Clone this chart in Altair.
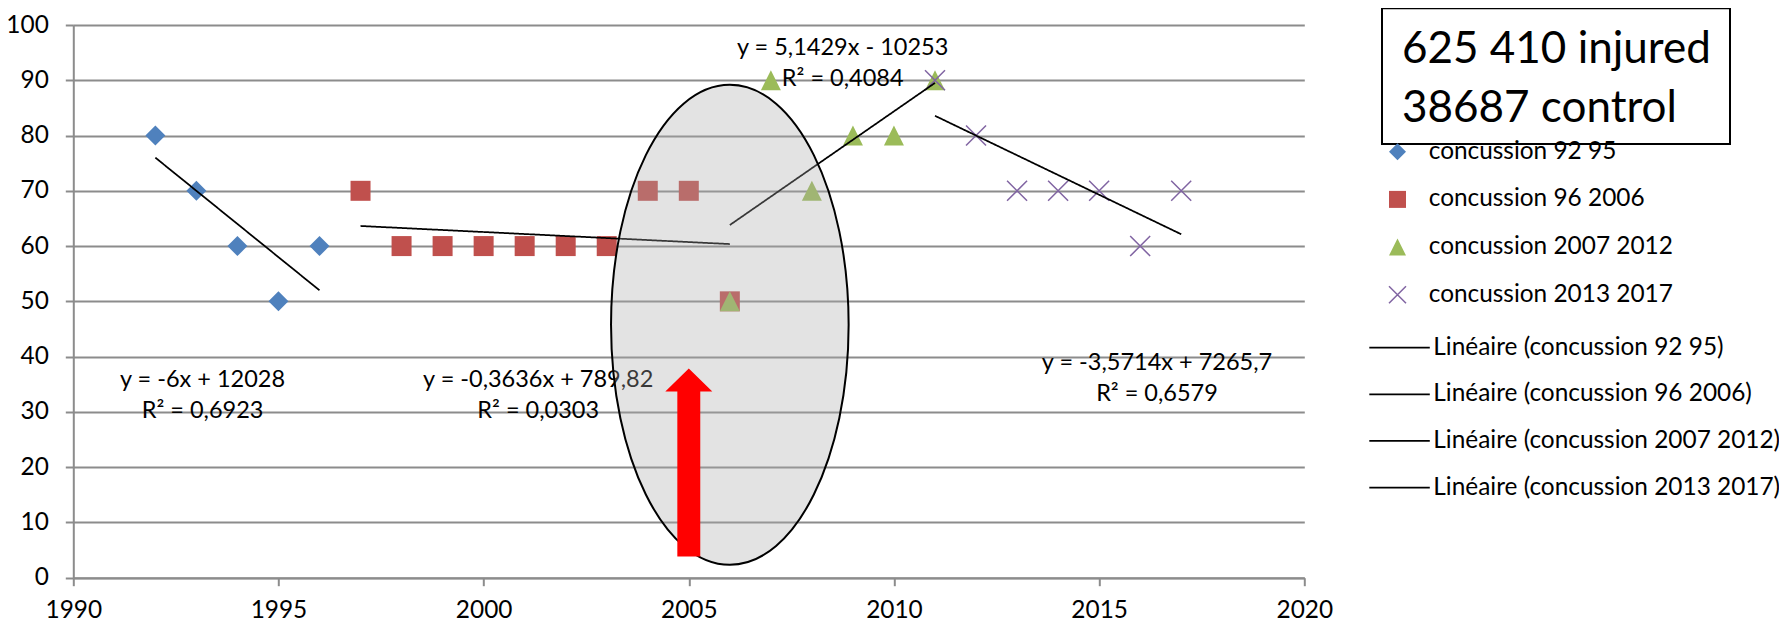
import altair as alt
import pandas as pd

# ---------------- data ----------------
series_names = ["concussion 92 95", "concussion 96 2006",
                "concussion 2007 2012", "concussion 2013 2017"]
trend_names = ["Linéaire (" + s + ")" for s in series_names]

years_92_95 = [1992, 1993, 1994, 1995, 1996]
values_92_95 = [80, 70, 60, 50, 60]
years_96_06 = [1997, 1998, 1999, 2000, 2001, 2002, 2003, 2004, 2005, 2006]
values_96_06 = [70, 60, 60, 60, 60, 60, 60, 70, 70, 50]
years_07_12 = [2006, 2007, 2008, 2009, 2010, 2011]
values_07_12 = [50, 90, 70, 80, 80, 90]
years_13_17 = [2011, 2012, 2013, 2014, 2015, 2016, 2017]
values_13_17 = [90, 80, 70, 70, 70, 60, 70]

equation_texts = ["y = -6x + 12028\nR² = 0,6923",
                  "y = -0,3636x + 789,82\nR² = 0,0303",
                  "y = 5,1429x - 10253\nR² = 0,4084",
                  "y = -3,5714x + 7265,7\nR² = 0,6579"]
equation_years = [1993.15, 2001.33, 2008.75, 2016.41]
equation_values = [35.85, 35.7, 95.8, 38.8]

box_text = "625 410 injured\n38687 control"

x_ticks = [1990, 1995, 2000, 2005, 2010, 2015, 2020]
y_ticks = [0, 10, 20, 30, 40, 50, 60, 70, 80, 90, 100]

# highlighted region (ellipse) and arrow anchor, in data units
ellipse_year, ellipse_value = [2006.0], [45.75]
arrow_year, arrow_value = [2005.0], [20.85]

# ---------------- tables ----------------
all_years = [years_92_95, years_96_06, years_07_12, years_13_17]
all_values = [values_92_95, values_96_06, values_07_12, values_13_17]
rows = []
for name, tname, ys, vs in zip(series_names, trend_names, all_years, all_values):
    for yr, v in zip(ys, vs):
        rows.append({"year": yr, "value": v, "series": name, "trend": tname})
df = pd.DataFrame(rows)
ann = pd.DataFrame({"year": equation_years, "value": equation_values, "label": equation_texts})
ell = pd.DataFrame({"year": ellipse_year, "value": ellipse_value})
arr = pd.DataFrame({"year": arrow_year, "value": arrow_value})
box = pd.DataFrame({"label": [box_text]})

FONT = "Lato"
FS = 23.5
LFS = 24.4
GRID = "#8c8c8c"
TOP = 17.0   # top padding; plot area top edge

xscale = alt.Scale(domain=[1990, 2020], nice=False, zero=False)
yscale = alt.Scale(domain=[0, 100], nice=False, zero=False)

x_axis = alt.Axis(values=x_ticks, format="d", grid=False, title=None,
                  domainColor=GRID, domainWidth=2, tickColor=GRID, tickWidth=2,
                  tickSize=8, labelFont=FONT, labelFontSize=LFS, labelColor="black",
                  labelPadding=13, labelFlush=False, labelOverlap=False)
y_axis = alt.Axis(values=y_ticks, grid=True, gridColor=GRID, gridWidth=2, title=None,
                  domainColor=GRID, domainWidth=2, tickColor=GRID, tickWidth=2,
                  tickSize=8, labelFont=FONT, labelFontSize=LFS, labelColor="black",
                  labelPadding=17, labelFlush=False, labelOverlap=False)

X_ENC = alt.X("year:Q", scale=xscale, axis=x_axis)
Y_ENC = alt.Y("value:Q", scale=yscale, axis=y_axis)

X_PATH = "M -1 -1 L 1 1 M -1 1 L 1 -1"
TRI_PATH = "M 0 -1 L 1 1 L -1 1 Z"
ka, kb, a = 0.2734, 0.5523, 0.495
ELLIPSE_PATH = (f"M {a} 0 C {a} {kb} {ka} 1 0 1 C {-ka} 1 {-a} {kb} {-a} 0 "
                f"C {-a} {-kb} {-ka} -1 0 -1 C {ka} -1 {a} {-kb} {a} 0 Z")
ARROW_PATH = ("M 0 -1 L 0.25 -0.755 L 0.122 -0.755 L 0.122 1 L -0.122 1 "
              "L -0.122 -0.755 L -0.25 -0.755 Z")

dy = 15.5 - TOP  # keep page positions of items placed relative to plot top

pt_legend = alt.Legend(orient="none", legendX=1312, legendY=116 + dy, title=None,
                       labelFont=FONT, labelFontSize=LFS, labelColor="black",
                       labelLimit=800, labelOffset=19, symbolSize=289,
                       symbolStrokeWidth=1.5, rowPadding=22.7, padding=0)
ln_legend = alt.Legend(orient="none", legendX=1294.75, legendY=292.7 + dy, title=None,
                       labelFont=FONT, labelFontSize=LFS, labelColor="black",
                       labelLimit=800, labelOffset=2.25, symbolSize=3659,
                       symbolType="stroke", symbolStrokeColor="black",
                       symbolStrokeWidth=1.75, rowPadding=3.6, padding=0)

points = alt.Chart(df).mark_point(filled=True, size=400, opacity=1, strokeWidth=1.5).encode(
    x=X_ENC, y=Y_ENC,
    fill=alt.Fill("series:N", scale=alt.Scale(domain=series_names,
                  range=["#4F81BD", "#C0504D", "#9BBB59", "#8064A2"]), legend=pt_legend),
    stroke=alt.Stroke("series:N", scale=alt.Scale(domain=series_names,
                      range=["transparent", "transparent", "transparent", "#8064A2"]),
                      legend=pt_legend),
    shape=alt.Shape("series:N", scale=alt.Scale(domain=series_names,
                    range=["diamond", "square", TRI_PATH, X_PATH]), legend=pt_legend),
)

trends = alt.Chart(df).transform_regression(
    "year", "value", groupby=["trend"], method="linear"
).mark_line(color="black", strokeWidth=1.75).encode(
    x=X_ENC, y=Y_ENC,
    strokeDash=alt.StrokeDash("trend:N", scale=alt.Scale(domain=trend_names,
                              range=[[1, 0], [1, 0], [1, 0], [1, 0]]), legend=ln_legend),
)

equations = alt.Chart(ann).mark_text(font=FONT, fontSize=FS, color="black", align="center",
                                     baseline="middle", lineBreak="\n", lineHeight=31).encode(
    x=X_ENC, y=Y_ENC, text="label:N",
)

ellipse = alt.Chart(ell).mark_point(shape=ELLIPSE_PATH, size=230400, filled=True, opacity=1,
                                    fill="#aaaaaa", fillOpacity=0.33, stroke="black",
                                    strokeOpacity=1, strokeWidth=2).encode(
    x=X_ENC, y=Y_ENC,
)

arrow = alt.Chart(arr).mark_point(shape=ARROW_PATH, size=35344, filled=True, opacity=1,
                                  fill="#ff0000", strokeWidth=0).encode(
    x=X_ENC, y=Y_ENC,
)

box_rect = alt.Chart(box).mark_rect(fill="white", stroke="black", strokeWidth=2).encode(
    x=alt.value(1308.7), x2=alt.value(1656.7), y=alt.value(-15.2 + dy), y2=alt.value(120.5 + dy)
)
box_label = alt.Chart(box).mark_text(font=FONT, fontSize=44, color="black", align="left",
                                     baseline="alphabetic", lineBreak="\n", lineHeight=59).encode(
    x=alt.value(1328.7), y=alt.value(39.5 + dy), text="label:N"
)

chart = alt.layer(points, trends, equations, ellipse, arrow, box_rect, box_label).properties(
    width=1231, height=554.2 + dy,
    autosize=alt.AutoSizeParams(type="none"),
    padding={"left": 65.3, "top": TOP, "right": 474.7, "bottom": 47.3},
).configure_view(stroke="transparent")

chart.save("out.html", embed_options={"renderer": "svg", "actions": False})
